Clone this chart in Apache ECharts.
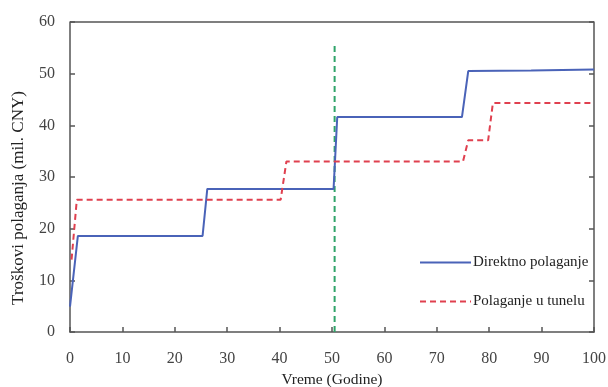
<!DOCTYPE html>
<html>
<head>
<meta charset="utf-8">
<script src="https://cdn.jsdelivr.net/npm/echarts@6/dist/echarts.min.js"></script>
<style>html,body{margin:0;padding:0;background:#fff}#c{width:608px;height:387px}</style>
</head>
<body>
<div id="c"></div>
<script>
const directX = [0, 1.5, 25.3, 26.2, 50.3, 51, 74.8, 76, 88, 100];
const directY = [4.9, 18.6, 18.6, 27.7, 27.7, 41.6, 41.6, 50.5, 50.6, 50.8];
const tunnelX = [0.3, 1.3, 40.2, 41.3, 75, 76, 79.8, 80.7, 100];
const tunnelY = [14, 25.6, 25.6, 33.0, 33.0, 37.1, 37.1, 44.3, 44.3];
const markerX = [50.5, 50.5];
const markerY = [0, 56];
const seriesNames = ['Direktno polaganje', 'Polaganje u tunelu'];
const xTicks = [0,10,20,30,40,50,60,70,80,90,100];
const yTicks = [0,10,20,30,40,50,60];

const zip = (a, b) => a.map((v, i) => [v, b[i]]);
const font = 'Liberation Serif';
const chart = echarts.init(document.getElementById('c'));
chart.setOption({
  animation: false,
  grid: {left: 70, right: 14, top: 22, bottom: 55, containLabel: false, outerBoundsMode: 'none'},
  legend: {
    data: seriesNames,
    orient: 'vertical',
    left: 414, top: 250,
    itemWidth: 51, itemHeight: 14, itemGap: 24,
    itemStyle: {opacity: 0},
    textStyle: {fontFamily: font, fontSize: 15, color: '#222', padding: [0,0,0,-3]}
  },
  xAxis: {
    type: 'value', min: 0, max: 100, interval: 10,
    name: 'Vreme (Godine)', nameLocation: 'middle', nameGap: 40,
    nameTextStyle: {fontFamily: font, fontSize: 15.5, color: '#222'},
    axisLine: {show: true, lineStyle: {color: '#555', width: 1.5}},
    axisTick: {show: true, inside: true, length: 5, lineStyle: {color: '#555', width: 1.5}},
    axisLabel: {fontFamily: font, fontSize: 16, color: '#444', margin: 19},
    splitLine: {show: false}
  },
  yAxis: [{
    type: 'value', min: 0, max: 60, interval: 10,
    name: 'Troškovi polaganja (mil. CNY)', nameLocation: 'middle', nameGap: 43,
    nameTextStyle: {fontFamily: font, fontSize: 17, color: '#222', padding: [0, 42, 0, 0]},
    axisLine: {show: true, lineStyle: {color: '#555', width: 1.5}},
    axisTick: {show: true, inside: true, length: 5, lineStyle: {color: '#555', width: 1.5}},
    axisLabel: {fontFamily: font, fontSize: 16, color: '#444', margin: 15},
    splitLine: {show: false}
  }, {
    type: 'value', min: 0, max: 60, interval: 10, position: 'right',
    axisLine: {show: true, lineStyle: {color: '#555', width: 1.5}},
    axisTick: {show: true, inside: true, length: 5, lineStyle: {color: '#555', width: 1.5}},
    axisLabel: {show: false}, splitLine: {show: false}
  }],
  graphic: [{
    type: 'line', shape: {x1: 70, y1: 22, x2: 594, y2: 22},
    style: {stroke: '#555', lineWidth: 1.5}
  }],
  series: [{
    name: seriesNames[0], type: 'line', data: zip(directX, directY), showSymbol: false, symbol: 'none',
    lineStyle: {color: '#4a63b8', width: 2}, itemStyle: {color: '#4a63b8'}
  }, {
    name: seriesNames[1], type: 'line', data: zip(tunnelX, tunnelY), showSymbol: false, symbol: 'none',
    lineStyle: {color: '#e0404f', width: 2, type: [6, 4]}, itemStyle: {color: '#e0404f'}
  }, {
    name: 'marker', type: 'line', data: zip(markerX, markerY), showSymbol: false, symbol: 'none',
    lineStyle: {color: '#2fa36a', width: 2, type: [6, 4]}, z: 1
  }]
});
</script>
</body>
</html>
